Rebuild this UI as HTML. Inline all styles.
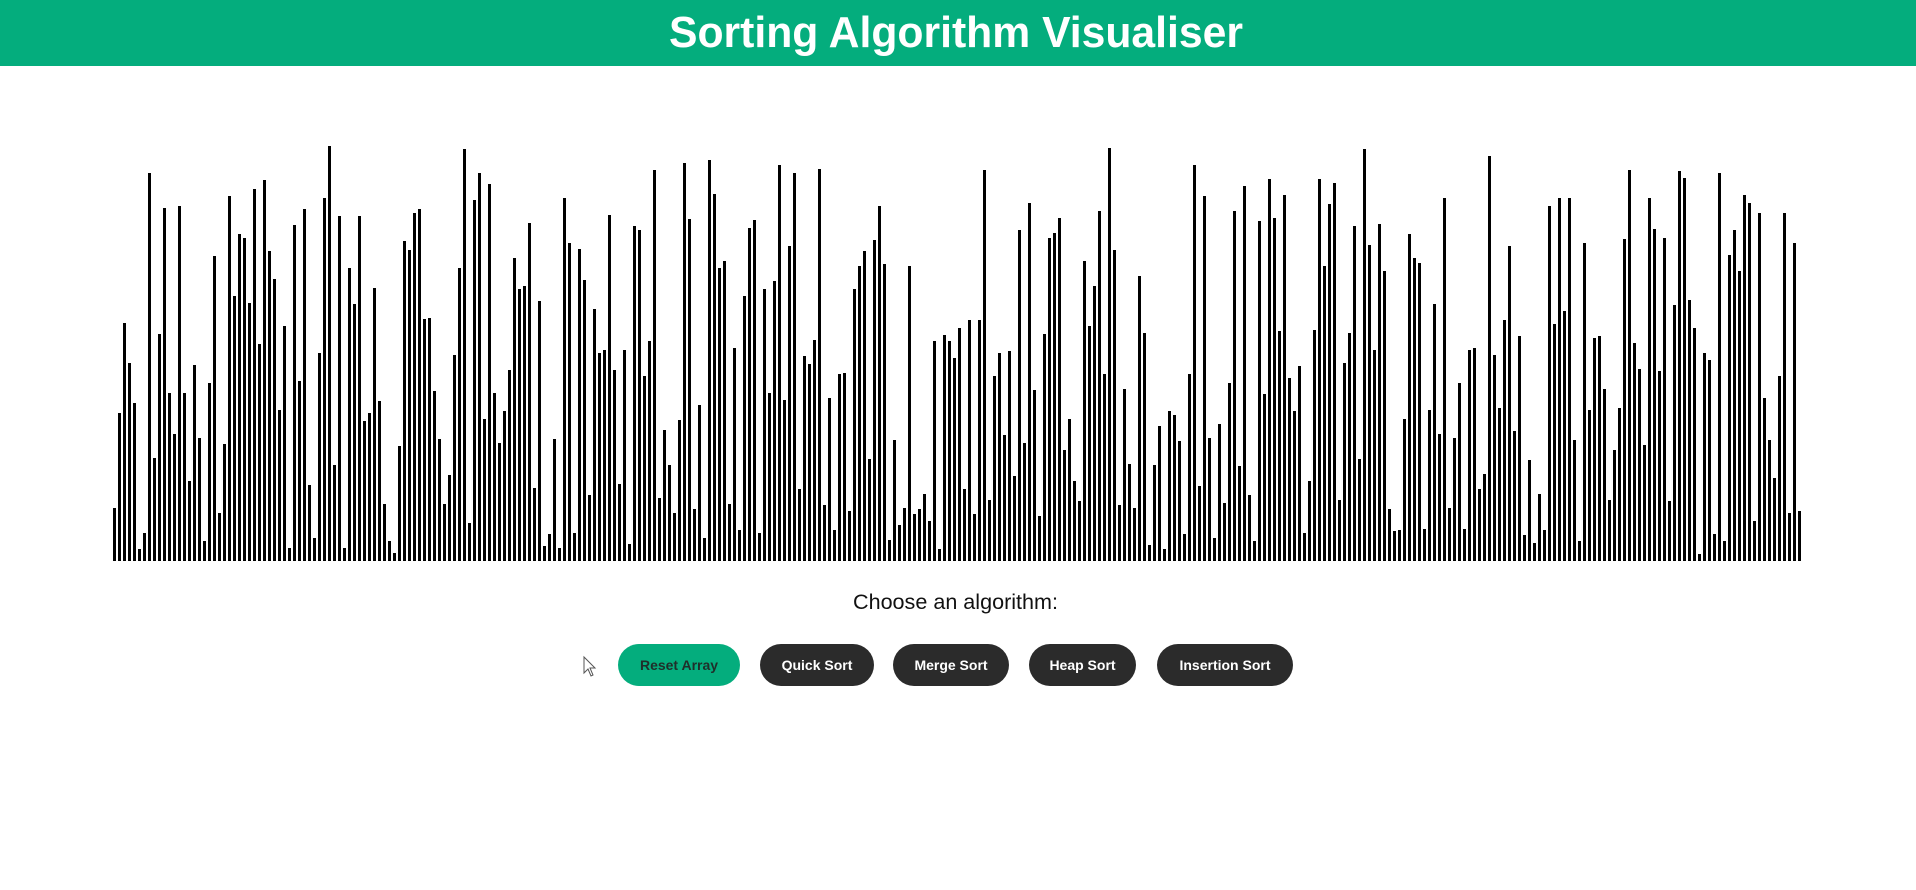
<!DOCTYPE html>
<html><head><meta charset="utf-8"><style>
html,body{margin:0;padding:0;background:#fff;width:1916px;height:890px;overflow:hidden;font-family:"Liberation Sans",sans-serif}
svg{position:absolute;left:0;top:0}
</style></head><body>
<svg width="1916" height="890">
<rect x="0" y="0" width="1916" height="66" fill="#04ad7d"/>
<text x="669" y="47" font-size="44" font-weight="bold" fill="#fff" textLength="574" lengthAdjust="spacingAndGlyphs">Sorting Algorithm Visualiser</text>
<g id="bars"></g>
<text x="853" y="609" font-size="21" fill="#111" textLength="205" lengthAdjust="spacingAndGlyphs">Choose an algorithm:</text>
<g id="btns"></g>
<path d="M584 657 L584 673 L588 669 L591 676 L593 675 L590 668 L595 668 Z" fill="#fff" stroke="#555" stroke-width="1"/>
</svg>
<script>
const values=[53,148,238,198,158,12,28,388,103,227,353,168,127,355,168,80,196,123,20,178,305,48,117,365,265,327,323,258,372,217,381,310,282,151,235,13,336,180,352,76,23,208,363,415,96,345,13,293,257,345,140,148,273,160,57,20,8,
115,320,311,348,352,242,243,170,122,57,86,206,293,412,38,361,388,142,377,168,118,150,191,303,272,275,338,73,260,15,27,122,13,363,318,28,312,281,66,252,208,211,346,191,77,211,17,335,331,185,220,391,63,131,96,48,141,398,
342,52,156,23,401,367,293,300,57,213,31,265,333,341,28,272,168,280,396,161,315,388,72,205,197,221,392,56,163,31,187,188,50,272,295,310,102,321,355,297,21,121,36,53,295,47,52,67,40,220,12,226,220,203,233,72,241,47,
241,391,61,185,208,126,210,85,331,118,358,171,45,227,323,328,343,111,142,80,60,300,235,275,350,187,413,311,56,172,97,53,285,228,16,96,135,12,150,146,120,27,187,396,75,365,123,23,137,58,178,350,95,375,66,20,340,167,
382,343,230,366,183,150,195,28,80,231,382,295,357,378,61,198,228,335,102,412,316,211,337,290,52,30,31,142,327,303,298,32,151,257,127,363,53,123,178,32,211,213,72,87,405,206,153,241,315,130,225,26,101,18,67,31,355,237,
363,250,363,121,20,318,151,223,225,172,61,111,153,322,391,218,192,116,363,332,190,323,60,256,390,383,261,233,7,208,201,27,388,20,306,331,290,366,358,40,348,163,121,83,185,348,48,318,50];
const buttonLabels=["Reset Array","Quick Sort","Merge Sort","Heap Sort","Insertion Sort"];
const X0=113,PITCH=5,BW=3,BASE=561;
function xPos(i){return X0+i*PITCH;}
function yPos(v){return BASE-v;}
const NS="http://www.w3.org/2000/svg";
const g=document.getElementById('bars');
values.forEach((v,i)=>{
 const r=document.createElementNS(NS,'rect');
 r.setAttribute('x',xPos(i));r.setAttribute('y',yPos(v));
 r.setAttribute('width',BW);r.setAttribute('height',BASE-yPos(v));
 r.setAttribute('fill','#000');
 
 
 g.appendChild(r);
});
const bx=[[618,740],[760,874],[893,1009],[1029,1136],[1157,1293]];
const bg=document.getElementById('btns');
buttonLabels.forEach((t,i)=>{
 const grp=document.createElementNS(NS,'g');
 
 
 const r=document.createElementNS(NS,'rect');
 r.setAttribute('x',bx[i][0]);r.setAttribute('y',644);r.setAttribute('width',bx[i][1]-bx[i][0]);r.setAttribute('height',42);
 r.setAttribute('rx',21);r.setAttribute('fill',i==0?'#04ad7d':'#2b2b2b');
 grp.appendChild(r);
 const tx=document.createElementNS(NS,'text');
 tx.setAttribute('x',(bx[i][0]+bx[i][1])/2);tx.setAttribute('y',670);
 tx.setAttribute('text-anchor','middle');tx.setAttribute('font-size','14');tx.setAttribute('font-weight','bold');
 tx.setAttribute('fill',i==0?'#1f2f2a':'#fff');
 tx.textContent=t;
 grp.appendChild(tx);
 bg.appendChild(grp);
});
</script>
</body></html>
